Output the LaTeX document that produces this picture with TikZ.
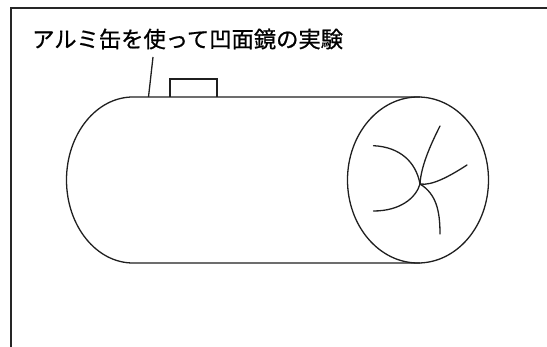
\documentclass[tikz,border=0pt]{standalone}
\usepackage{fontspec}
\newfontfamily\jpfont[FakeBold=0.8]{Noto Sans CJK JP}
\begin{document}
\begin{tikzpicture}[x=1pt,y=-1pt,
  frameline/.style={line width=1.8pt,color=black!85},
  outline/.style={line width=1.3pt,color=black!88},
  crack/.style={line width=1.3pt,color=black!88,line cap=round},
  title/.style={font=\jpfont\fontsize{22.3}{26}\selectfont,inner sep=0pt,anchor=base west}]
\useasboundingbox (0,0) rectangle (547,347);
% frame
\draw[frameline] (547,8) -- (11,8) -- (11,347);
% title and leader
\node[title] (ttl) at (32,47.5) {アルミ缶を使って凹面鏡の実験};
\coordinate (ldA) at (153,57);
\coordinate (ldB) at (148.5,97);
\draw[outline] (ldA) -- (ldB);
% tab on top of the can
\draw[outline] (170,97) -- (170,79) -- (217,79) -- (217,97);
% can body
\draw[outline] (420,97) -- (133,97)
  arc[start angle=270,end angle=90,x radius=66.5,y radius=83] -- (420,263);
% bottom of the can
\draw[outline] (418,180) ellipse[x radius=70.5,y radius=83];
% creases in the bottom
\coordinate (jn) at (420,184);
\draw[crack] (373.5,145.7) .. controls (400,147) and (416,162) .. (jn)
  .. controls (416,198) and (400,211) .. (373.5,211);
\draw[crack] (jn) .. controls (421,165) and (432,142) .. (440,126);
\draw[crack] (jn) .. controls (432,186) and (450,176) .. (467,165);
\draw[crack] (jn) .. controls (436,194) and (440,210) .. (440,234);
\end{tikzpicture}
\end{document}
